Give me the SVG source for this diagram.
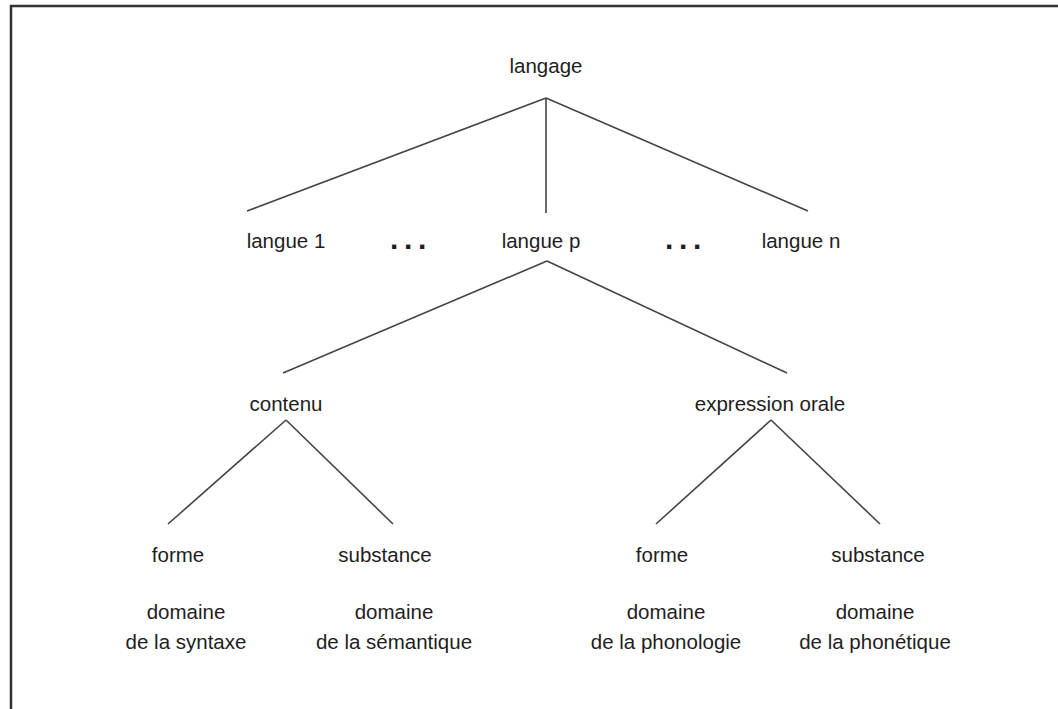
<svg xmlns="http://www.w3.org/2000/svg" width="1058" height="709" viewBox="0 0 1058 709">
<style>
text{font-family:"Liberation Sans",Arial,sans-serif;font-size:20.5px;fill:#1e1e1e;text-anchor:middle}
text.dots{font-size:30px;font-weight:bold;letter-spacing:5.7px;text-anchor:start}
.c line{stroke:#444;stroke-width:1.6;fill:none}
.frame{stroke:#333;stroke-width:2.5;fill:none}
</style>
<rect x="0" y="0" width="1058" height="709" fill="#fff"/>
<path class="frame" d="M11,709 V6 H1058"/>
<g class="c" id="connectors">
<line x1="546" y1="98" x2="247" y2="211"/>
<line x1="546" y1="98" x2="546" y2="213"/>
<line x1="546" y1="98" x2="808" y2="211"/>
<line x1="547" y1="261" x2="283" y2="373"/>
<line x1="547" y1="261" x2="787" y2="373"/>
<line x1="286" y1="420" x2="168" y2="524"/>
<line x1="286" y1="420" x2="393" y2="524"/>
<line x1="771" y1="420" x2="656" y2="524"/>
<line x1="771" y1="420" x2="880" y2="524"/>
</g>
<g id="langage"><text x="546" y="73">langage</text></g>
<g id="langue1"><text x="286" y="248">langue 1</text></g>
<g id="dots1"><text class="dots" x="390" y="249">...</text></g>
<g id="languep"><text x="541" y="248">langue p</text></g>
<g id="dots2"><text class="dots" x="665" y="249">...</text></g>
<g id="languen"><text x="801" y="248">langue n</text></g>
<g id="contenu"><text x="286" y="411">contenu</text></g>
<g id="expression"><text x="770" y="411">expression orale</text></g>
<g id="forme1"><text x="178" y="562">forme</text></g>
<g id="substance1"><text x="385" y="562">substance</text></g>
<g id="forme2"><text x="662" y="562">forme</text></g>
<g id="substance2"><text x="878" y="562">substance</text></g>
<g id="dom1"><text x="186" y="619">domaine</text><text x="186" y="649">de la syntaxe</text></g>
<g id="dom2"><text x="394" y="619">domaine</text><text x="394" y="649">de la sémantique</text></g>
<g id="dom3"><text x="666" y="619">domaine</text><text x="666" y="649">de la  phonologie</text></g>
<g id="dom4"><text x="875" y="619">domaine</text><text x="875" y="649">de la  phonétique</text></g>
</svg>
